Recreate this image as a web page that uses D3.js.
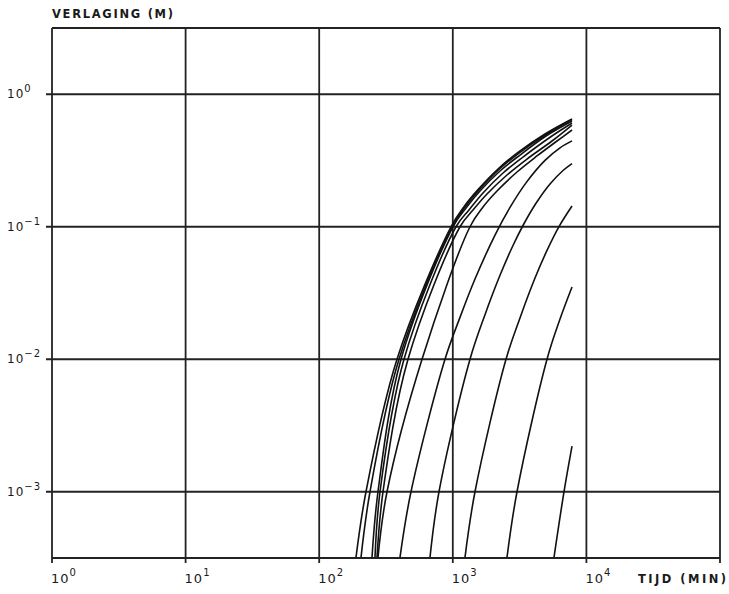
<!DOCTYPE html>
<html>
<head>
<meta charset="utf-8">
<script src="https://cdn.jsdelivr.net/npm/d3@7/dist/d3.min.js"></script>
<style>
  body { margin: 0; background: #fff; }
  text { font-family: "DejaVu Sans", sans-serif; fill: #1a1a1a; }
</style>
</head>
<body>
<div id="chart"></div>
<script>
// tick values and labels
var xTicks = [1, 10, 100, 1000, 10000, 100000];
var xExp = ["0", "1", "2", "3", "4"];
var yTicks = [1, 0.1, 0.01, 0.001];
var yExp = ["0", "-1", "-2", "-3"];

// drawdown curves, [tijd (min), verlaging (m)]
var c01 = [[188.6, 0.00032], [224, 0.001], [382.2, 0.01], [969.4, 0.1], [1213, 0.1419], [1544, 0.1907], [2179, 0.2728], [3076, 0.3639], [4899, 0.5012], [7804, 0.6505]];
var c02 = [[205.6, 0.00032], [240, 0.001], [395.6, 0.01], [986.3, 0.1], [1234, 0.1409], [1571, 0.1894], [2217, 0.2704], [3130, 0.3601], [4985, 0.4968], [7804, 0.6448]];
var c03 = [[248.5, 0.00032], [275.4, 0.001], [409.6, 0.01], [1003.5, 0.1], [1256, 0.1385], [1598, 0.1861], [2256, 0.2635], [3184, 0.3478], [4985, 0.4841], [7804, 0.6283]];
var c04 = [[261.6, 0.00032], [285.2, 0.001], [431.2, 0.01], [1057, 0.1], [1322, 0.1338], [1683, 0.1798], [2376, 0.2544], [3353, 0.3359], [5250, 0.4676], [7804, 0.6067]];
var c05 = [[270.8, 0.00032], [300.3, 0.001], [462.0, 0.01], [1132, 0.1], [1417, 0.1338], [1803, 0.1767], [2545, 0.2458], [3593, 0.3245], [5527, 0.4438], [7804, 0.5859]];
var c06 = [[275.4, 0.00032], [321.8, 0.001], [588.3, 0.01], [1345, 0.1], [1683, 0.1409], [2142, 0.1861], [3024, 0.2589], [4268, 0.3420], [6026, 0.4438], [7804, 0.5373]];
var c07 = [[402.5, 0.00032], [486.6, 0.001], [874.2, 0.01], [1132, 0.0207], [1466, 0.0403], [2070, 0.0865], [2681, 0.1399], [3531, 0.2143], [4899, 0.3168], [6346, 0.3943], [7804, 0.4445]];
var c08 = [[675.0, 0.00032], [788.3, 0.001], [1345, 0.01], [1742, 0.0217], [2256, 0.0430], [2822, 0.0722], [3353, 0.1022], [4196, 0.1503], [5340, 0.2102], [6684, 0.2658], [7804, 0.2996]];
var c09 = [[1234, 0.00032], [1466, 0.001], [2502, 0.01], [3184, 0.0205], [4124, 0.0410], [5072, 0.0663], [6236, 0.1003], [7804, 0.1434]];
var c10 = [[2545, 0.00032], [3024, 0.001], [5072, 0.01], [6346, 0.0201], [7804, 0.0351]];
var c11 = [[5721, 0.00032], [6798, 0.001], [7804, 0.00221]];
var curves = [c01, c02, c03, c04, c05, c06, c07, c08, c09, c10, c11];

// dimensions
var margin = { top: 28, right: 9, bottom: 36, left: 52 };
var width = 729 - margin.left - margin.right,
    height = 594 - margin.top - margin.bottom;

var svg = d3.select("#chart")
    .append("svg")
    .attr("width", 729)
    .attr("height", 594)
    .style("display", "block")
    .style("background", "#fff");

var g = svg.append("g")
    .attr("transform", "translate(" + margin.left + "," + margin.top + ")");

// scales
var x = d3.scaleLog()
    .domain([1, 1e5])
    .range([0, width]);

var y = d3.scaleLog()
    .domain([Math.pow(10, -3.5), Math.pow(10, 0.5)])
    .range([height, 0]);

// grid
g.selectAll(".vgrid")
    .data(xTicks)
    .enter()
    .append("line")
    .attr("class", "vgrid")
    .attr("x1", function(d) { return x(d); })
    .attr("x2", function(d) { return x(d); })
    .attr("y1", 0)
    .attr("y2", height + 5)
    .attr("stroke", "#222")
    .attr("stroke-width", 1.8);

g.selectAll(".hgrid")
    .data(yTicks)
    .enter()
    .append("line")
    .attr("class", "hgrid")
    .attr("x1", -6)
    .attr("x2", width)
    .attr("y1", function(d) { return y(d); })
    .attr("y2", function(d) { return y(d); })
    .attr("stroke", "#222")
    .attr("stroke-width", 1.8);

// frame top and bottom
g.append("line")
    .attr("x1", 0).attr("x2", width)
    .attr("y1", 0).attr("y2", 0)
    .attr("stroke", "#222").attr("stroke-width", 1.8);
g.append("line")
    .attr("x1", 0).attr("x2", width)
    .attr("y1", height).attr("y2", height)
    .attr("stroke", "#222").attr("stroke-width", 1.8);

// curves
var line = d3.line()
    .x(function(d) { return x(d[0]); })
    .y(function(d) { return y(d[1]); })
    .curve(d3.curveCatmullRom.alpha(0.5));

g.selectAll(".curve")
    .data(curves)
    .enter()
    .append("path")
    .attr("class", "curve")
    .attr("d", line)
    .attr("fill", "none")
    .attr("stroke", "#111")
    .attr("stroke-width", 1.6);

// x tick labels
var xl = g.selectAll(".xlab")
    .data(xExp)
    .enter()
    .append("text")
    .attr("class", "xlab")
    .attr("x", function(d, i) { return x(xTicks[i]) - 1; })
    .attr("y", height + 25)
    .attr("font-size", "13px")
    .attr("letter-spacing", "1px");
xl.append("tspan").text("10");
xl.append("tspan")
    .attr("dy", -7)
    .attr("font-size", "10px")
    .text(function(d) { return d; });

// y tick labels
var yl = svg.selectAll(".ylab")
    .data(yExp)
    .enter()
    .append("text")
    .attr("class", "ylab")
    .attr("x", 7)
    .attr("y", function(d, i) { return margin.top + y(yTicks[i]) + 4; })
    .attr("font-size", "12px")
    .attr("letter-spacing", "1px");
yl.append("tspan").text("10");
yl.append("tspan")
    .attr("dy", -6)
    .attr("font-size", "10px")
    .text(function(d) { return d.replace("-", "\u2212"); });

// axis titles
svg.append("text")
    .attr("x", 52)
    .attr("y", 18)
    .attr("font-size", "11.5px")
    .attr("font-weight", "bold")
    .attr("textLength", 121)
    .attr("lengthAdjust", "spacing")
    .text("VERLAGING (M)");

svg.append("text")
    .attr("x", 638)
    .attr("y", 583)
    .attr("font-size", "11.5px")
    .attr("font-weight", "bold")
    .attr("textLength", 88)
    .attr("lengthAdjust", "spacing")
    .text("TIJD (MIN)");
</script>
</body>
</html>
